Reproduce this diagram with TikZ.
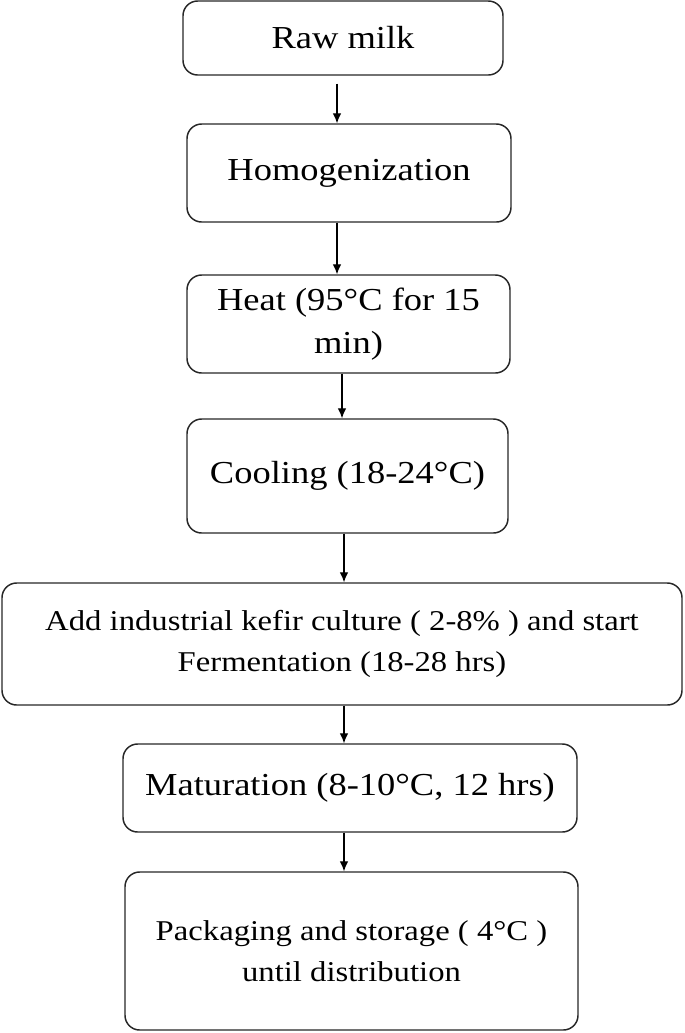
\documentclass[tikz,border=0pt]{standalone}
\usepackage{fontspec}
\setmainfont{Liberation Serif}[FakeStretch=1.14]
\usepackage{tikz}
\usetikzlibrary{arrows.meta}
\newcommand{\stagefont}{\fontsize{24}{32}\selectfont}
\newcommand{\smallstagefont}{\fontsize{21.5}{31}\selectfont}

\tikzset{
    stage/.style = {draw = black!85, line width = 1.1pt, rounded corners = 11pt,
        rectangle, inner sep = 0pt, align = center, font = \stagefont},
    flow/.style = {draw = black, line width = 0.9pt, -{Latex[length = 7.5pt, width = 6.5pt]}}
}

\begin{document}
\begin{tikzpicture}[x = 0.75pt, y = -0.75pt]
            \useasboundingbox (0, 0) rectangle (685, 1033);

            % process stages, top to bottom
            \node[stage, minimum width = 240pt, minimum height = 55.5pt] (raw) at (343, 38) {Raw milk};
            \node[stage, minimum width = 243pt, minimum height = 73.5pt] (homog) at (349, 173) {Homogenization};
            \node[stage, minimum width = 242.25pt, minimum height = 73.5pt] (heat) at (348.5, 324) {Heat (95°C for 15\\min)};
            \node[stage, minimum width = 240.75pt, minimum height = 85.5pt] (cool) at (347.5, 476) {Cooling (18-24°C)};
            \node[stage, minimum width = 510pt, minimum height = 91.5pt, font = \smallstagefont] (ferment) at (342, 644) {Add industrial kefir culture ( 2-8\% ) and start\\Fermentation (18-28 hrs)};
            \node[stage, minimum width = 340.5pt, minimum height = 66pt] (mature) at (350, 788) {Maturation (8-10°C, 12 hrs)};
            \node[stage, minimum width = 339.75pt, minimum height = 118.5pt, font = \smallstagefont] (pack) at (351.5, 951) {Packaging and storage ( 4°C )\\until distribution};

            % arrows between the stages
            \draw[flow, shorten <= 6pt] (raw.south -| 337, 0) -- (homog.north -| 337, 0);
            \draw[flow] (homog.south -| 337, 0) -- (heat.north -| 337, 0);
            \draw[flow] (heat.south -| 342, 0) -- (cool.north -| 342, 0);
            \draw[flow] (cool.south -| 344, 0) -- (ferment.north -| 344, 0);
            \draw[flow] (ferment.south -| 344, 0) -- (mature.north -| 344, 0);
            \draw[flow] (mature.south -| 344, 0) -- (pack.north -| 344, 0);

\end{tikzpicture}
\end{document}
